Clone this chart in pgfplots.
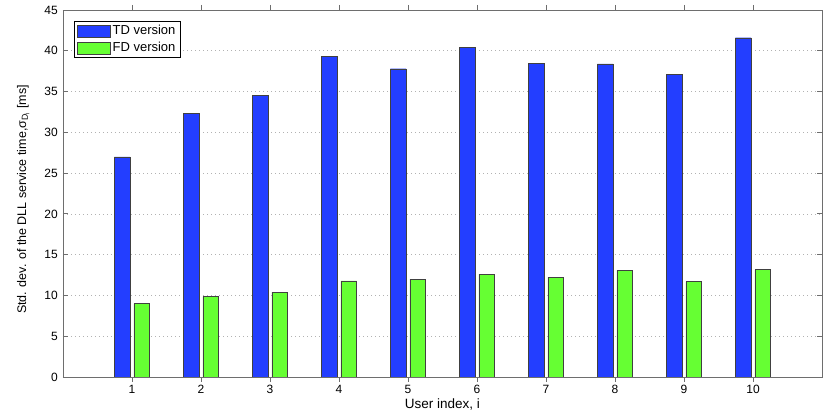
\documentclass[border=0pt]{standalone}
\usepackage{pgfplots}
\pgfplotsset{compat=1.18}
\usepackage{fontspec}
\setmainfont{Liberation Sans}
\definecolor{tdblue}{RGB}{35,62,255}
\definecolor{fdgreen}{RGB}{102,255,51}
\definecolor{axgray}{RGB}{110,110,110}
\begin{document}
\fontsize{12}{14}\selectfont
\begin{tikzpicture}
\begin{axis}[
  scale only axis,
  width=759pt, height=367pt,
  xmin=0, xmax=11, ymin=0, ymax=45,
  xtick={1,2,3,4,5,6,7,8,9,10},
  ytick={0,5,10,15,20,25,30,35,40,45},
  tick align=inside,
  major tick length=5pt,
  axis line style={axgray, line width=0.8pt},
  every tick/.style={axgray, line width=0.8pt},
  ymajorgrids,
  grid style={gray!60, line width=0.7pt, dash pattern=on 1pt off 3pt},
  /pgf/number format/assume math mode=true,
  tick label style={font=\fontsize{12}{14}\selectfont, black},
  yticklabel style={xshift=-1pt},
  xticklabel style={yshift=1pt},
  xlabel={User index, i},
  ylabel={Std. dev. of the DLL service time,σ\textsubscript{D\textsubscript{i}} [ms]},
  xlabel style={font=\fontsize{13.5}{15}\selectfont, yshift=3pt},
  ylabel style={font=\fontsize{12.5}{15}\selectfont, yshift=7pt, xshift=-6pt},
  ybar,
  bar width=0.228,
  legend style={at={(0.0145,0.97)}, anchor=north west, draw=black, font=\fontsize{13}{15}\selectfont,
    row sep=2pt, inner xsep=3pt, inner ysep=2pt},
  legend cell align=left,
  legend image code/.code={\draw[#1] (2pt,-6pt) rectangle (35pt,6pt);},
]
\addplot[bar shift=-0.142, fill=tdblue, draw=black!75] coordinates {
(1,27.0) (2,32.3) (3,34.5) (4,39.3) (5,37.8) (6,40.4) (7,38.5) (8,38.4) (9,37.1) (10,41.6)};
\addlegendentry{TD version}
\addplot[bar shift=0.142, fill=fdgreen, draw=black!75] coordinates {
(1,9.0) (2,9.85) (3,10.4) (4,11.8) (5,12.0) (6,12.6) (7,12.2) (8,13.07) (9,11.7) (10,13.16)};
\addlegendentry{FD version}
\end{axis}
\pgfresetboundingbox
\path[use as bounding box] ([shift={(-63pt,-40pt)}]current axis.south west) rectangle ([shift={(8pt,10pt)}]current axis.north east);
\end{tikzpicture}
\end{document}
